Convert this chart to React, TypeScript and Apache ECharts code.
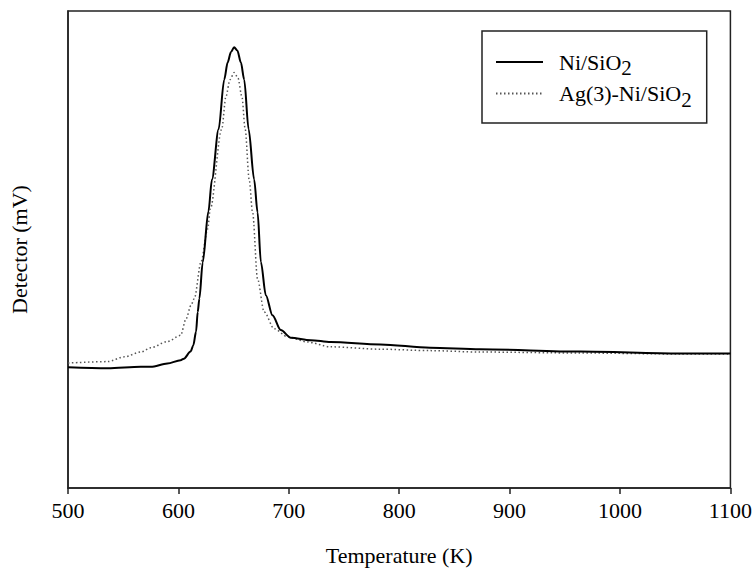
import React, { useEffect, useRef } from "react";
import * as echarts from "echarts";

// Temperature (K) and detector signal (arbitrary units, 0-100 scale)
const niTemp = [500, 536, 566, 575, 590, 602, 605, 611, 613.5, 616, 617.5, 619, 622, 627.2, 630.4, 636.4, 641.5, 644.6, 647.6, 650.5, 653.4, 656.6, 659.6, 663.6, 668.6, 671.7, 674.7, 679.2, 685.2, 692.7, 701.8, 719.8, 737.9, 783, 828, 873.5, 964, 1054, 1100];
const niSignal = [25.3, 25.1, 25.4, 25.4, 26.1, 26.8, 27.1, 28.6, 29.9, 32.8, 36.9, 39.7, 47.3, 58.0, 64.7, 75.2, 85.6, 89.2, 91.4, 92.4, 91.7, 89.2, 85.6, 75.2, 64.7, 57.8, 47.4, 40.4, 36.2, 33.1, 31.5, 31.0, 30.6, 30.1, 29.4, 29.1, 28.6, 28.2, 28.2];

const agTemp = [500, 536, 551, 566, 575, 590, 602, 607, 611.4, 614.4, 620.5, 626.5, 628.9, 639.2, 643.1, 646.7, 650.5, 653.9, 657.5, 660.5, 664.1, 667.2, 671.7, 677.7, 686.7, 698.8, 716.9, 737.9, 783, 828, 873.5, 964, 1054, 1100];
const agSignal = [26.2, 26.5, 27.5, 28.5, 29.4, 30.7, 32.0, 35.5, 38.3, 39.7, 47.4, 54.3, 58.5, 75.2, 82.1, 85.6, 87.1, 86.0, 82.1, 75.2, 64.7, 57.8, 43.8, 36.9, 33.4, 31.7, 30.6, 29.6, 29.1, 28.8, 28.5, 28.3, 28.1, 28.1];

const xTicks = [500, 600, 700, 800, 900, 1000, 1100];
const seriesNames = ["Ni/SiO2", "Ag(3)-Ni/SiO2"];
const legendRich: Record<string, string> = {
  "Ni/SiO2": "{n|Ni/SiO}{s|2}",
  "Ag(3)-Ni/SiO2": "{n|Ag(3)-Ni/SiO}{s|2}",
};

const FONT = "'Liberation Serif', 'Times New Roman', Times, serif";

export default function App() {
  const ref = useRef<HTMLDivElement>(null);
  useEffect(() => {
    if (!ref.current) return;
    const chart = echarts.init(ref.current, undefined, { renderer: "svg" });
    const zip = (xs: number[], ys: number[]) => xs.map((x, i) => [x, ys[i]]);
    chart.setOption({
      animation: false,
      backgroundColor: "#fff",
      textStyle: { fontFamily: FONT },
      grid: {
        left: 67,
        right: 24,
        top: 11,
        bottom: 81,
        show: true,
        borderColor: "#222",
        borderWidth: 1.5,
      },
      legend: {
        show: true,
        orient: "vertical",
        left: 482,
        top: 31,
        data: seriesNames,
        itemWidth: 47,
        itemHeight: 14,
        itemGap: 4,
        padding: [20, 15, 13, 13],
        borderColor: "#222",
        borderWidth: 1.5,
        backgroundColor: "#fff",
        itemStyle: { opacity: 0 },
        formatter: (name: string) => legendRich[name] || name,
        textStyle: {
          fontFamily: FONT,
          color: "#000",
          rich: {
            n: { fontFamily: FONT, fontSize: 22, color: "#000", lineHeight: 26, padding: [0, 0, 0, 11] },
            s: { fontFamily: FONT, fontSize: 21, color: "#000", padding: [12, 0, 0, 0] },
          },
        },
      },
      xAxis: {
        type: "value",
        min: 500,
        max: 1100,
        interval: 100,
        name: "Temperature (K)",
        nameLocation: "middle",
        nameGap: 56,
        nameTextStyle: { fontFamily: FONT, fontSize: 22, color: "#000" },
        axisLine: { show: true, lineStyle: { color: "#222", width: 1.5 } },
        axisTick: { show: true, inside: false, length: 6, lineStyle: { color: "#222", width: 1.5 } },
        axisLabel: {
          fontFamily: FONT,
          fontSize: 22,
          color: "#000",
          margin: 11,
          formatter: (v: number) => (xTicks.includes(v) ? String(v) : ""),
        },
        splitLine: { show: false },
      },
      yAxis: {
        type: "value",
        min: 0,
        max: 100,
        name: "Detector (mV)",
        nameLocation: "middle",
        nameGap: 38,
        nameRotate: 90,
        nameTextStyle: { fontFamily: FONT, fontSize: 22, color: "#000" },
        axisLine: { show: true, lineStyle: { color: "#222", width: 1.5 } },
        axisTick: { show: false },
        axisLabel: { show: false },
        splitLine: { show: false },
      },
      series: [
        {
          name: seriesNames[0],
          type: "line",
          data: zip(niTemp, niSignal),
          showSymbol: false,
          symbol: "none",
          smooth: 0.3,
          smoothMonotone: "x",
          lineStyle: { color: "#000", width: 2, type: "solid" },
          itemStyle: { color: "#000" },
          z: 3,
        },
        {
          name: seriesNames[1],
          type: "line",
          data: zip(agTemp, agSignal),
          showSymbol: false,
          symbol: "none",
          smooth: 0.3,
          smoothMonotone: "x",
          lineStyle: { color: "#555", width: 1.5, type: [1.5, 2.5] },
          itemStyle: { color: "#555" },
          z: 2,
        },
      ],
    });
    return () => chart.dispose();
  }, []);
  return (
    <div
      ref={ref}
      style={{ position: "fixed", left: 0, top: 0, width: 755, height: 571, background: "#fff" }}
    />
  );
}
